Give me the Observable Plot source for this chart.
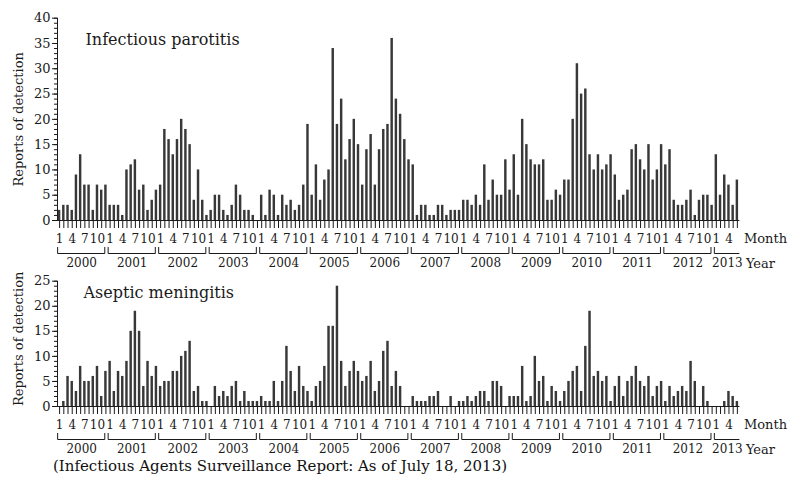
<!DOCTYPE html>
<html>
<head>
<meta charset="utf-8">
<script src="https://cdn.jsdelivr.net/npm/d3@7"></script>
<script src="https://cdn.jsdelivr.net/npm/@observablehq/plot@0.6"></script>
<style>
  html, body { margin: 0; padding: 0; background: #fff; }
  body { width: 794px; height: 482px; overflow: hidden; font-family: "DejaVu Serif", serif; }
  #chart svg { display: block; overflow: visible; }
  #caption { font-size: 15px; line-height: 16px; padding-left: 53px; color: #111; white-space: nowrap; }
</style>
</head>
<body>
<div id="chart"></div>
<div id="caption">(Infectious Agents Surveillance Report: As of July 18, 2013)</div>
<script>
// ---- data (monthly reports of detection, Jan 2000 – Jun 2013) ----
const years = d3.range(2000, 2014);
const monthTickLabels = ["1", "4", "7", "10"];

const parotitis = [
  2, 3, 3, 2, 9, 13, 7, 7, 2, 7, 6, 7,          // 2000
  3, 3, 3, 1, 10, 11, 12, 6, 7, 2, 4, 6,        // 2001
  7, 18, 16, 13, 16, 20, 18, 15, 4, 10, 4, 1,   // 2002
  2, 5, 5, 2, 1, 3, 7, 5, 2, 2, 1, 0,           // 2003
  5, 1, 6, 5, 1, 5, 3, 4, 2, 3, 7, 19,          // 2004
  5, 11, 4, 8, 10, 34, 19, 24, 12, 16, 20, 15,  // 2005
  7, 14, 17, 7, 14, 18, 19, 36, 24, 21, 16, 12, // 2006
  11, 1, 3, 3, 1, 1, 3, 3, 1, 2, 2, 2,          // 2007
  4, 4, 3, 5, 3, 11, 4, 8, 5, 5, 12, 6,         // 2008
  13, 5, 20, 15, 12, 11, 11, 12, 4, 4, 6, 5,    // 2009
  8, 8, 20, 31, 25, 26, 13, 10, 13, 10, 11, 13, // 2010
  9, 4, 5, 6, 14, 15, 12, 10, 15, 8, 10, 15,    // 2011
  11, 14, 4, 3, 3, 4, 6, 1, 4, 5, 5, 3,         // 2012
  13, 5, 9, 7, 3, 8                             // 2013
];

const meningitis = [
  0, 1, 6, 5, 3, 8, 5, 5, 6, 8, 2, 7,           // 2000
  9, 3, 7, 6, 9, 15, 19, 15, 4, 9, 6, 8,        // 2001
  4, 5, 5, 7, 7, 10, 11, 13, 3, 4, 1, 1,        // 2002
  0, 4, 2, 3, 2, 4, 5, 1, 3, 1, 1, 1,           // 2003
  2, 1, 1, 5, 1, 5, 12, 7, 3, 8, 4, 3,          // 2004
  1, 4, 5, 8, 16, 16, 24, 9, 4, 7, 9, 7,        // 2005
  5, 6, 9, 3, 5, 11, 13, 4, 7, 4, 0, 0,         // 2006
  2, 1, 1, 1, 2, 2, 3, 0, 0, 2, 0, 1,           // 2007
  1, 2, 1, 2, 3, 3, 1, 5, 5, 4, 0, 2,           // 2008
  2, 2, 8, 1, 2, 10, 5, 6, 1, 4, 3, 1,          // 2009
  3, 5, 7, 8, 3, 12, 19, 6, 7, 5, 6, 1,         // 2010
  4, 6, 2, 5, 6, 8, 5, 4, 6, 2, 4, 5,           // 2011
  1, 4, 2, 3, 4, 3, 9, 5, 0, 4, 1, 0,           // 2012
  0, 0, 1, 3, 2, 1                              // 2013
];

const barColor = "#383838";
const ink = "#1a1a1a";
const xDomain = [-0.5, 161.6];

function panel({values, yMax, title, height, marginTop, titleDx, titleDy, labelDy}) {
  const n = values.length;
  const data = values.map((v, i) => ({i, v}));
  const yearRows = years.map((yr, k) => {
    const start = 12 * k - 0.35;
    const closed = 12 * k + 11 < n;
    const end = closed ? 12 * k + 10.85 : xDomain[1];
    return {yr, start, end, closed, mid: (start + end) / 2};
  });

  const brackets = (index, scales, channels, dims) => {
    const x = scales.x;
    const yb = dims.height - dims.marginBottom;
    const g = d3.create("svg:g")
      .attr("fill", "none")
      .attr("stroke", ink)
      .attr("stroke-width", 1);
    for (const r of yearRows) {
      const x1 = x(r.start), x2 = x(r.end);
      let d = `M${x1},${yb + 27}V${yb + 33.5}H${x2}`;
      if (r.closed) d += `V${yb + 27}`;
      g.append("path").attr("d", d);
    }
    return g.node();
  };

  const txt = {fill: ink, lineAnchor: "middle"};

  return Plot.plot({
    width: 794,
    height,
    marginLeft: 57,
    marginRight: 794 - 739.4,
    marginTop,
    marginBottom: 52,
    style: {fontFamily: "DejaVu Serif", fontSize: "13px", color: ink, background: "#fff"},
    x: {domain: xDomain, label: null},
    y: {domain: [0, yMax], label: null},
    marks: [
      Plot.rect(data, {x1: d => d.i - 0.29, x2: d => d.i + 0.29, y1: 0, y2: "v", fill: barColor}),
      Plot.ruleY([0], {stroke: ink}),
      Plot.ruleX([xDomain[0]], {stroke: ink}),
      Plot.axisY({ticks: d3.range(0, yMax + 1, 1), tickSize: 3, tickFormat: () => "", stroke: ink}),
      Plot.axisY({ticks: d3.range(0, yMax + 1, 5), tickSize: 5, tickPadding: 2, fontSize: 13, stroke: ink}),
      Plot.axisX({
        ticks: d3.range(n),
        tickSize: 8,
        tickPadding: 6,
        fontSize: 12,
        stroke: ink,
        tickFormat: i => (i % 3 === 0 ? monthTickLabels[(i % 12) / 3] : "")
      }),
      brackets,
      Plot.text(yearRows, {...txt, x: "mid", frameAnchor: "bottom", dy: 43, text: d => String(d.yr), fontSize: 12}),
      Plot.text(["Month"], {...txt, frameAnchor: "bottom-right", dx: 4, dy: 18, textAnchor: "start", fontSize: 13}),
      Plot.text(["Year"], {...txt, frameAnchor: "bottom-right", dx: 6, dy: 43, textAnchor: "start", fontSize: 13}),
      Plot.text([title], {...txt, frameAnchor: "top-left", dx: titleDx, dy: titleDy, textAnchor: "start", fontSize: 16}),
      Plot.text(["Reports of detection"], {...txt, frameAnchor: "left", rotate: -90, dx: -39, dy: labelDy, textAnchor: "middle", fontSize: 13})
    ]
  });
}

const chart = document.getElementById("chart");
chart.append(panel({
  values: parotitis, yMax: 40, title: "Infectious parotitis",
  height: 272, marginTop: 17.7, titleDx: 28, titleDy: 22, labelDy: 0
}));
chart.append(panel({
  values: meningitis, yMax: 25, title: "Aseptic meningitis",
  height: 186, marginTop: 8.7, titleDx: 26, titleDy: 11.3, labelDy: -5
}));
</script>
</body>
</html>
